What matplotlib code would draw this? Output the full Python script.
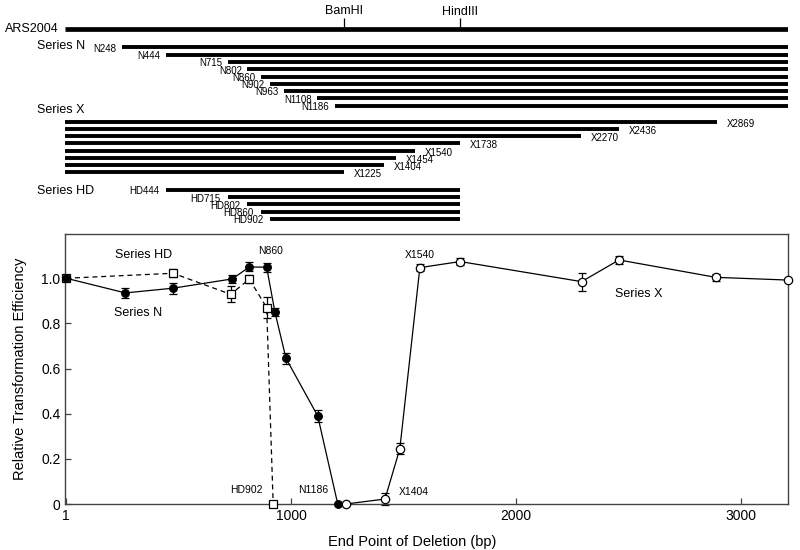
import matplotlib
matplotlib.use('Agg')
import matplotlib.pyplot as plt
import numpy as np

plt.rcParams['font.family'] = ['Liberation Sans', 'DejaVu Sans']

# --- deletion map (top) ---
ars_length = 3180
bamhi = 1228
hindiii = 1738
n_names = ['N248', 'N444', 'N715', 'N802', 'N860', 'N902', 'N963', 'N1108', 'N1186']
n_starts = [248, 444, 715, 802, 860, 902, 963, 1108, 1186]
x_names = ['X2869', 'X2436', 'X2270', 'X1738', 'X1540', 'X1454', 'X1404', 'X1225']
x_ends = [2869, 2436, 2270, 1738, 1540, 1454, 1404, 1225]
hd_names = ['HD444', 'HD715', 'HD802', 'HD860', 'HD902']
hd_starts = [444, 715, 802, 860, 902]

# --- transformation efficiency (bottom) ---
n_x = [1, 264, 476, 739, 815, 892, 929, 978, 1119, 1208]
n_y = [1.0, 0.935, 0.956, 0.997, 1.05, 1.049, 0.849, 0.645, 0.39, 0.0]
n_err = [0, 0.024, 0.024, 0.017, 0.02, 0.02, 0.018, 0.023, 0.025, 0]

hd_x = [1, 476, 732, 815, 892, 921]
hd_y = [1.0, 1.022, 0.929, 0.996, 0.87, 0.0]
hd_err = [0, 0.018, 0.035, 0.017, 0.048, 0]

x_x = [1244, 1418, 1484, 1573, 1752, 2292, 2458, 2889, 3208]
x_y = [0.0, 0.022, 0.245, 1.047, 1.074, 0.985, 1.081, 1.004, 0.992]
x_err = [0, 0.025, 0.025, 0.017, 0.016, 0.04, 0.016, 0.016, 0]

W, H = 800, 550


def px_box(x0, y0, x1, y1):
    # pixel box -> figure fraction
    return [x0 / W, 1 - y1 / H, (x1 - x0) / W, (y1 - y0) / H]


fig = plt.figure(figsize=(8, 5.5), dpi=100)

# top map, y in pixel rows
top = fig.add_axes(px_box(65.3, 0, 787.7, 228))
top.set_xlim(0, ars_length)
top.set_ylim(228, 0)
top.axis('off')

ars_row = 29
n_rows = 47.3 + 7.3 * np.arange(len(n_starts))
x_rows = 121.7 + 7.23 * np.arange(len(x_ends))
hd_rows = 190 + 7.2 * np.arange(len(hd_starts))

top.hlines(ars_row, 0, ars_length, lw=3.4, color='black', capstyle='butt')
top.annotate('ARS2004', (0, ars_row), xytext=(-5, 0), textcoords='offset points',
             ha='right', va='center', fontsize=9)
top.vlines(bamhi, 18, 27, lw=0.9, color='black')
top.vlines(hindiii, 18, 27, lw=0.9, color='black')
top.text(bamhi, 11, 'BamHI', ha='center', va='center', fontsize=9)
top.text(hindiii, 12, 'HindIII', ha='center', va='center', fontsize=9)

top.hlines(n_rows, n_starts, ars_length, lw=2.8, color='black', capstyle='butt')
for name, s, r in zip(n_names, n_starts, n_rows):
    top.annotate(name, (s, r), xytext=(-4, -1), textcoords='offset points',
                 ha='right', va='center', fontsize=7)

top.hlines(x_rows, 0, x_ends, lw=2.8, color='black', capstyle='butt')
for name, e, r in zip(x_names, x_ends, x_rows):
    top.annotate(name, (e, r), xytext=(7, -1.5), textcoords='offset points',
                 ha='left', va='center', fontsize=7)

top.hlines(hd_rows, hd_starts, hindiii, lw=2.8, color='black', capstyle='butt')
for name, s, r in zip(hd_names, hd_starts, hd_rows):
    top.annotate(name, (s, r), xytext=(-5, -1), textcoords='offset points',
                 ha='right', va='center', fontsize=7)

for label, r in [('Series N', 46), ('Series X', 110), ('Series HD', 191)]:
    top.annotate(label, (0, r), xytext=(-20.5, 0), textcoords='offset points',
                 ha='left', va='center', fontsize=9)

# main plot
ax = fig.add_axes(px_box(65.3, 234, 787.7, 504))
ax.set_xlim(-3, 3208)
ax.set_ylim(0, 1.196)


def series(xs, ys, errs, marker, face, ls, ms, z):
    xs, ys, errs = np.array(xs), np.array(ys), np.array(errs)
    ok = errs > 0
    ax.errorbar(xs[ok], ys[ok], yerr=errs[ok], fmt='none', ecolor='black',
                elinewidth=0.9, capsize=3, capthick=0.9, zorder=2, clip_on=False)
    ax.plot(xs, ys, linestyle=ls, color='black', lw=0.9, marker=marker,
            mfc=face, mec='black', mew=0.9, ms=ms, zorder=z, clip_on=False)


series(hd_x, hd_y, hd_err, 's', 'white', (0, (4, 3)), 5.5, 3)
series(n_x, n_y, n_err, 'o', 'black', '-', 5.5, 4)
series(x_x, x_y, x_err, 'o', 'white', '-', 6, 3)

ax.set_xticks([1, 1000, 2000, 3000])
ax.set_xticklabels(['1', '1000', '2000', '3000'])
ax.set_yticks([0, 0.2, 0.4, 0.6, 0.8, 1.0])
ax.set_yticklabels(['0', '0.2', '0.4', '0.6', '0.8', '1.0'])
ax.tick_params(direction='in', length=4, width=0.9, labelsize=10, color='#444444')
for sp in ax.spines.values():
    sp.set_color('#444444')
    sp.set_linewidth(1.0)

ax.set_xlabel('End Point of Deletion (bp)', fontsize=10.5, labelpad=3)
ax.xaxis.set_label_coords(0.48, -0.115)
ax.set_ylabel('Relative Transformation Efficiency', fontsize=10.5, labelpad=10)

notes = [('Series HD', 344, 1.103, 9), ('Series N', 320, 0.845, 9),
         ('N860', 909, 1.121, 7.5), ('X1540', 1571, 1.103, 7.5),
         ('Series X', 2547, 0.930, 9), ('HD902', 800, 0.062, 7.5),
         ('N1186', 1101, 0.062, 7.5), ('X1404', 1544, 0.053, 7.5)]
for txt, tx, ty, fs in notes:
    ax.text(tx, ty, txt, ha='center', va='center', fontsize=fs)

fig.savefig('out.png', dpi=100)
